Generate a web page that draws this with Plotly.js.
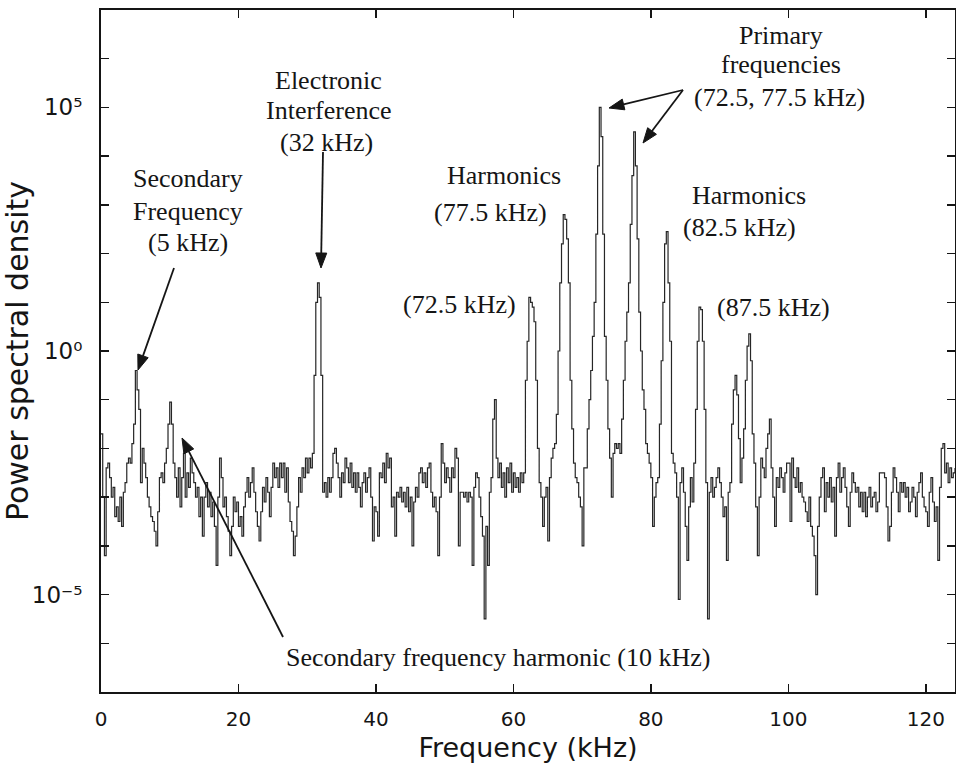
<!DOCTYPE html>
<html>
<head>
<meta charset="utf-8">
<script src="https://cdn.plot.ly/plotly-3.0.1.min.js"></script>
<style>
html,body{margin:0;padding:0;background:#fff;}
#chart{width:956px;height:772px;}
</style>
</head>
<body>
<div id="chart"></div>
<script>
// Frequency grid of the spectrum (kHz)
const freqStartKHz = 0;
const freqStepKHz = 0.25;

// log10 of power spectral density, one value per 0.25 kHz bin
const psdLog10 = [
  -1.7,-3.0,-4.2,-2.4,-2.3,-2.6,-3.0,-2.8,-3.4,-3.2,-3.5,-3.0,-3.6,-2.9,-2.7,-2.3,-2.2,-2.3,-1.9,-1.5,
  -0.4,-0.8,-1.2,-2.7,-2.0,-2.3,-2.6,-3.0,-3.2,-3.4,-3.5,-3.7,-4.0,-3.3,-2.6,-2.5,-2.7,-2.3,-2.0,-1.5,
  -1.05,-1.5,-2.3,-2.6,-3.0,-2.4,-3.2,-2.6,-2.1,-3.0,-2.5,-2.8,-2.2,-2.5,-2.7,-3.0,-2.8,-3.4,-3.0,-3.8,
  -3.0,-2.7,-3.2,-2.9,-3.4,-3.1,-3.6,-4.4,-3.0,-2.2,-2.6,-3.2,-3.0,-3.4,-3.7,-4.2,-3.6,-3.0,-3.3,-3.1,
  -3.6,-3.4,-3.8,-3.2,-2.9,-2.6,-3.0,-2.7,-2.4,-2.9,-3.3,-3.6,-3.9,-3.3,-2.8,-3.1,-2.6,-2.9,-3.4,-2.8,
  -2.3,-2.6,-2.4,-2.8,-2.3,-2.6,-2.3,-2.9,-2.4,-3.1,-3.5,-3.7,-4.2,-3.8,-3.2,-2.6,-2.9,-2.4,-2.6,-2.2,
  -2.5,-2.2,-2.4,-2.1,-0.5,1.0,1.4,1.1,-0.5,-2.9,-2.7,-3.0,-2.6,-2.9,-2.6,-2.1,-2.0,-2.3,-2.6,-3.0,
  -2.5,-2.7,-2.2,-2.4,-2.7,-2.3,-2.8,-2.5,-2.9,-2.5,-2.8,-3.2,-2.7,-2.5,-2.9,-2.6,-2.4,-3.0,-3.9,-3.2,
  -3.3,-3.8,-2.5,-2.6,-2.3,-2.7,-2.1,-2.4,-2.2,-3.2,-3.0,-3.8,-2.9,-3.0,-2.8,-3.1,-2.9,-3.2,-2.8,-3.3,
  -3.0,-4.0,-3.1,-2.8,-3.0,-2.5,-2.4,-2.7,-2.5,-2.8,-2.4,-2.3,-2.9,-3.2,-3.0,-3.3,-4.2,-3.0,-1.9,-2.3,
  -2.7,-2.4,-2.6,-2.9,-2.4,-2.6,-2.0,-2.2,-4.0,-2.9,-2.9,-3.0,-2.9,-3.1,-2.9,-3.0,-4.4,-2.8,-2.5,-2.6,
  -3.0,-3.4,-3.8,-5.5,-3.6,-4.4,-2.9,-2.6,-1.4,-1.0,-2.2,-2.6,-2.3,-2.8,-2.5,-3.0,-2.4,-2.7,-2.3,-2.9,
  -2.5,-2.8,-2.6,-2.9,-2.5,-2.7,-2.5,-0.6,0.2,1.1,1.0,0.9,0.6,-0.6,-2.0,-2.7,-3.0,-3.6,-3.0,-2.8,
  -3.9,-2.6,-2.2,-2.0,-1.9,-1.3,0.0,1.4,2.2,2.8,2.7,2.3,1.4,-0.6,-1.6,-2.3,-2.6,-2.7,-3.0,-3.2,
  -4.0,-2.4,-2.4,-1.6,-1.0,-0.4,0.3,1.0,2.4,3.8,5.0,4.4,2.4,0.3,-0.6,-1.6,-2.2,-3.0,-2.1,-1.9,
  -2.0,-1.9,-2.1,-1.4,-0.6,0.2,0.8,1.4,2.6,3.6,4.5,3.8,2.3,0.8,0.0,-0.8,-1.2,-1.9,-2.1,-2.3,
  -2.6,-3.6,-3.0,-2.7,-2.6,-1.5,-0.2,1.0,2.2,2.45,1.4,0.2,-2.1,-2.3,-2.5,-3.0,-5.1,-2.7,-2.4,-2.9,
  -3.6,-4.3,-3.2,-2.6,-3.1,-2.3,-1.2,0.2,0.9,0.85,0.2,-1.2,-2.7,-5.5,-2.9,-2.6,-3.0,-2.8,-2.6,-2.4,
  -2.7,-3.0,-3.4,-3.2,-4.3,-2.9,-2.7,-1.5,-0.8,-0.5,-0.9,-1.8,-2.7,-2.2,-1.6,-0.6,0.1,0.35,-0.2,-1.7,
  -2.3,-3.2,-4.2,-3.0,-2.2,-2.4,-2.6,-2.0,-1.7,-1.4,-2.4,-3.0,-3.6,-2.6,-2.8,-2.4,-2.6,-2.9,-2.5,-2.3,
  -2.3,-3.5,-2.2,-2.6,-2.8,-2.4,-2.9,-2.7,-3.0,-3.1,-3.3,-3.5,-3.0,-3.6,-3.8,-4.2,-5.0,-3.6,-3.0,-2.6,
  -2.4,-3.3,-2.7,-3.0,-2.6,-3.1,-2.8,-3.8,-2.6,-2.3,-2.9,-2.6,-2.4,-2.8,-3.2,-3.6,-2.9,-2.5,-2.7,-2.9,
  -2.8,-3.2,-2.9,-3.3,-2.9,-3.4,-3.0,-2.8,-3.2,-3.0,-2.9,-3.3,-3.1,-2.5,-2.5,-2.5,-2.6,-3.2,-3.9,-3.6,
  -2.9,-2.4,-2.6,-2.9,-3.3,-2.7,-2.9,-2.7,-3.0,-2.8,-3.3,-3.1,-2.8,-3.0,-3.4,-2.9,-2.7,-2.5,-3.0,-3.2,
  -3.3,-3.6,-2.9,-2.6,-3.1,-3.5,-3.2,-4.3,-2.8,-2.0,-1.9,-2.5,-2.3,-2.7,-2.4,-2.6,-2.5,-2.4
];

// Axis ticks
const xTickVals = [0, 20, 40, 60, 80, 100, 120];
const yLabelledDecades = [-5, 0, 5];
const yLabelText = ['10\u207B\u2075', '10\u2070', '10\u2075'];
const yMinorDecades = [-6, -4, -3, -2, -1, 1, 2, 3, 4, 6];

const psdValues = psdLog10.map(e => Math.pow(10, e));

const trace = {
  type: 'scatter',
  mode: 'lines',
  x0: freqStartKHz,
  dx: freqStepKHz,
  y: psdValues,
  line: {shape: 'hv', color: '#262626', width: 1.2},
  hoverinfo: 'skip'
};

const W = 956, H = 772;
const M = {l: 101, r: 1, t: 10, b: 80};
const plotW = W - M.l - M.r, plotH = H - M.t - M.b;
const ink = '#151515';

const serif = {family: 'Liberation Serif, Times New Roman, serif', size: 26, color: ink};

function label(text, x, y) {
  return {text: text, x: x, y: y, xref: 'x', yref: 'y', showarrow: false,
          xanchor: 'center', yanchor: 'middle', font: serif};
}

const annotations = [
  label('Secondary', 12.66, 3.55),
  label('Frequency', 12.66, 2.87),
  label('(5 kHz)', 12.66, 2.22),
  label('Electronic', 33.03, 5.56),
  label('Interference', 33.17, 4.93),
  label('(32 kHz)', 32.74, 4.29),
  label('Harmonics', 58.64, 3.61),
  label('(77.5 kHz)', 56.6, 2.85),
  label('(72.5 kHz)', 52.23, 0.96),
  label('Primary', 98.94, 6.47),
  label('frequencies', 98.94, 5.89),
  label('(72.5, 77.5 kHz)', 98.65, 5.21),
  label('Harmonics', 94.28, 3.20),
  label('(82.5 kHz)', 92.83, 2.53),
  label('(87.5 kHz)', 97.77, 0.90),
  label('Secondary frequency harmonic (10 kHz)', 57.76, -6.30)
];

// Callout arrows (tail -> head), in page pixels
const calloutArrows = [
  [[174, 268], [138, 370]],
  [[323, 152], [321, 268]],
  [[683, 90], [609, 108]],
  [[683, 90], [643, 143]],
  [[283, 637], [182, 438]]
];

function px2paper(p) {
  return [(p[0] - M.l) / plotW, (M.t + plotH - p[1]) / plotH];
}

const shapes = [];
calloutArrows.forEach(([tail, head]) => {
  const dx = head[0] - tail[0], dy = head[1] - tail[1];
  const len = Math.hypot(dx, dy);
  const ux = dx / len, uy = dy / len;
  const headLen = 15, headHalf = 5.5;
  const base = [head[0] - headLen * ux, head[1] - headLen * uy];
  const c1 = [base[0] - headHalf * uy, base[1] + headHalf * ux];
  const c2 = [base[0] + headHalf * uy, base[1] - headHalf * ux];
  const t = px2paper(tail), b = px2paper(base);
  shapes.push({type: 'line', xref: 'paper', yref: 'paper',
               x0: t[0], y0: t[1], x1: b[0], y1: b[1],
               line: {color: ink, width: 1.8}});
  const h = px2paper(head), p1 = px2paper(c1), p2 = px2paper(c2);
  shapes.push({type: 'path', xref: 'paper', yref: 'paper',
               path: `M ${h[0]} ${h[1]} L ${p1[0]} ${p1[1]} L ${p2[0]} ${p2[1]} Z`,
               fillcolor: ink, line: {color: ink, width: 1}});
});

const layout = {
  width: W,
  height: H,
  margin: M,
  paper_bgcolor: '#ffffff',
  plot_bgcolor: '#ffffff',
  showlegend: false,
  font: {family: 'DejaVu Sans, sans-serif', color: ink},
  xaxis: {
    range: [0, 124.25],
    tickvals: xTickVals,
    ticktext: xTickVals.map(String),
    ticks: 'inside', ticklen: 8, tickwidth: 1.5, tickcolor: ink,
    showline: true, linecolor: ink, linewidth: 2, mirror: 'ticks',
    showgrid: false, zeroline: false,
    tickfont: {size: 20},
    ticklabelstandoff: 8,
    title: {text: 'Frequency (kHz)', font: {size: 27}, standoff: 8}
  },
  yaxis: {
    type: 'log',
    range: [-7, 7],
    tickvals: yLabelledDecades.map(d => Math.pow(10, d)),
    ticktext: yLabelText,
    ticks: 'inside', ticklen: 8, tickwidth: 1.5, tickcolor: ink,
    minor: {
      tickvals: yMinorDecades.map(d => Math.pow(10, d)),
      ticks: 'inside', ticklen: 8, tickwidth: 1.5, tickcolor: ink, showgrid: false
    },
    showline: true, linecolor: ink, linewidth: 2, mirror: 'ticks',
    showgrid: false, zeroline: false,
    tickfont: {size: 23},
    ticklabelstandoff: 12,
    title: {text: 'Power spectral density', font: {size: 30}, standoff: 2}
  },
  annotations: annotations,
  shapes: shapes
};

Plotly.newPlot('chart', [trace], layout, {staticPlot: true, displayModeBar: false});
</script>
</body>
</html>
